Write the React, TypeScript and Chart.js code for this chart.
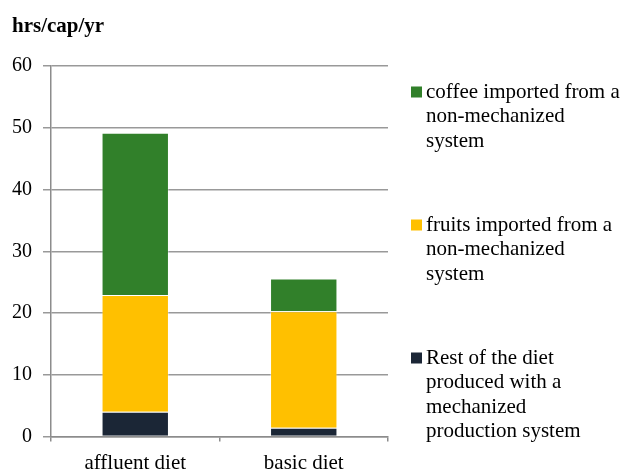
import React, { useEffect, useRef } from "react";
import { Chart, registerables } from "chart.js";

Chart.register(...registerables);

const categories = ["affluent diet", "basic diet"];
const restValues = [4.0, 1.4];
const fruitValues = [18.9, 18.9];
const coffeeValues = [26.3, 5.3];
const yTicks = [0, 10, 20, 30, 40, 50, 60];
const axisTitle = "hrs/cap/yr";

const restLabel = ["Rest of the diet", "produced with a", "mechanized", "production system"];
const fruitLabel = ["fruits imported from a", "non-mechanized", "system"];
const coffeeLabel = ["coffee imported from a", "non-mechanized", "system"];

const SERIF = "'Liberation Serif', 'Times New Roman', serif";

const decorPlugin = {
  id: "decor",
  afterDraw(chart: any) {
    const ctx = chart.ctx;
    ctx.save();
    ctx.fillStyle = "#000";
    ctx.font = `bold 21px ${SERIF}`;
    ctx.textBaseline = "alphabetic";
    ctx.textAlign = "left";
    ctx.fillText(axisTitle, 12, 32);
    const ds = chart.data.datasets;
    const groupTops = [92, 225, 358];
    ctx.font = `21px ${SERIF}`;
    ctx.textBaseline = "middle";
    for (let i = 0; i < ds.length; i++) {
      const d = ds[ds.length - 1 - i];
      const y0 = groupTops[i];
      ctx.fillStyle = d.backgroundColor;
      ctx.fillRect(411, y0 - 5.5, 11, 11);
      ctx.fillStyle = "#000";
      const lines: string[] = d.legendLines;
      lines.forEach((ln, k) => ctx.fillText(ln, 426, y0 + k * 24.5));
    }
    ctx.restore();
  },
};

export default function App() {
  const ref = useRef<HTMLCanvasElement | null>(null);
  useEffect(() => {
    if (!ref.current) return;
    const chart = new Chart(ref.current, {
      type: "bar",
      data: {
        labels: categories,
        datasets: [
          {
            label: restLabel.join(" "),
            legendLines: restLabel,
            data: restValues,
            backgroundColor: "#1B2636",
            borderColor: "rgba(255,255,255,0.35)",
            borderWidth: 1,
          } as any,
          {
            label: fruitLabel.join(" "),
            legendLines: fruitLabel,
            data: fruitValues,
            backgroundColor: "#FFC000",
            borderColor: "rgba(255,255,255,0.35)",
            borderWidth: 1,
          } as any,
          {
            label: coffeeLabel.join(" "),
            legendLines: coffeeLabel,
            data: coffeeValues,
            backgroundColor: "#31802A",
            borderColor: "rgba(255,255,255,0.35)",
            borderWidth: 1,
          } as any,
        ],
      },
      options: {
        animation: false,
        responsive: false,
        maintainAspectRatio: false,
        layout: { padding: { top: 66, right: 235, left: 0, bottom: 0 } },
        plugins: {
          legend: { display: false },
          title: { display: false },
          tooltip: { enabled: false },
        },
        datasets: { bar: { barPercentage: 0.4, categoryPercentage: 1 } },
        scales: {
          x: {
            stacked: true,
            border: { display: true, color: "#8c8c8c", width: 1.5 },
            grid: {
              display: true,
              drawOnChartArea: false,
              drawTicks: true,
              tickLength: 5,
              color: "#8c8c8c",
              lineWidth: 1.5,
            },
            ticks: {
              color: "#000",
              padding: 9,
              font: { family: SERIF, size: 21 },
            },
            afterFit: (s: any) => {
              s.height = 33.5;
            },
          },
          y: {
            stacked: true,
            min: 0,
            max: 60,
            afterBuildTicks: (s: any) => {
              s.ticks = yTicks.map((v) => ({ value: v }));
            },
            border: { display: true, color: "#8c8c8c", width: 1.5 },
            grid: {
              color: "#999999",
              lineWidth: 1.5,
              drawTicks: true,
              tickLength: 8,
            },
            ticks: {
              color: "#000",
              padding: 11,
              font: { family: SERIF, size: 20 },
            },
            afterFit: (s: any) => {
              s.width = 51;
            },
          },
        },
      },
      plugins: [decorPlugin],
    } as any);
    return () => chart.destroy();
  }, []);
  return (
    <div style={{ position: "absolute", left: 0, top: 0, width: 623, height: 470, overflow: "hidden" }}>
      <canvas ref={ref} width={623} height={470} style={{ display: "block" }} />
    </div>
  );
}
